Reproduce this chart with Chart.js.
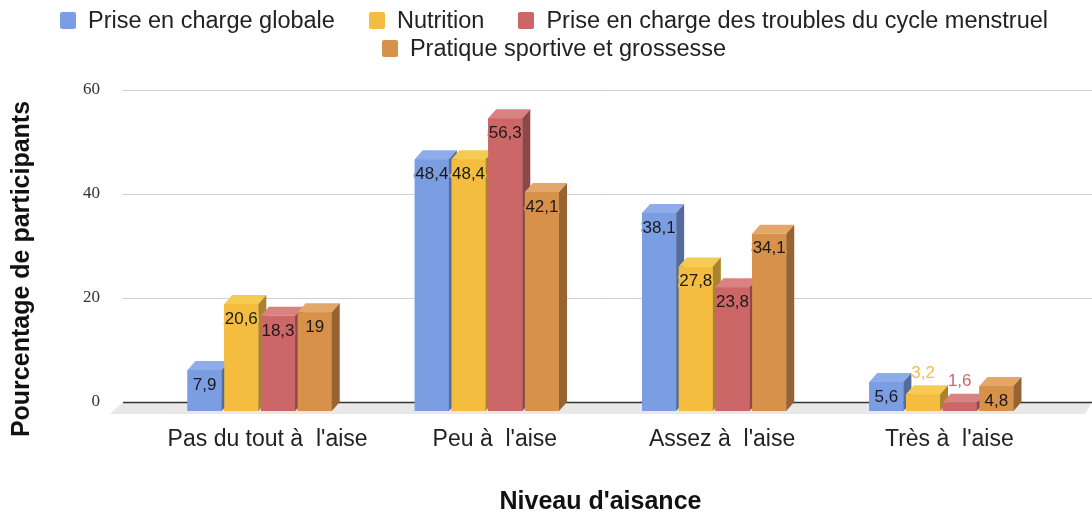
<!DOCTYPE html>
<html>
<head>
<meta charset="utf-8">
<script src="https://cdn.jsdelivr.net/npm/chart.js@4.4.1/dist/chart.umd.min.js"></script>
<style>
body { margin: 0; background: #fff; }
#wrap { position: relative; width: 1092px; height: 518px; }
#myChart { display: block; }
#legend {
    position: absolute; top: 6px; left: 0; width: 1092px; box-sizing: border-box; padding-left: 16px;
    display: flex; flex-wrap: wrap; justify-content: center; column-gap: 34px;
    font-family: "Liberation Sans", Arial, sans-serif; font-size: 23.5px; line-height: 28px; color: #222;
}
.item { display: flex; align-items: center; white-space: nowrap; }
.box { width: 16px; height: 17px; border-radius: 2px; margin-right: 12px; }
</style>
</head>
<body>
<div id="wrap">
    <canvas id="myChart" width="1092" height="518"></canvas>
    <div id="legend"></div>
</div>
<script>
const categories = ["Pas du tout à  l'aise", "Peu à  l'aise", "Assez à  l'aise", "Très à  l'aise"];
const seriesNames = ["Prise en charge globale", "Nutrition", "Prise en charge des troubles du cycle menstruel", "Pratique sportive et grossesse"];
const globale = [7.9, 48.4, 38.1, 5.6];
const nutrition = [20.6, 48.4, 27.8, 3.2];
const cycle = [18.3, 56.3, 23.8, 1.6];
const sport = [19, 42.1, 34.1, 4.8];
const yTicks = [0, 20, 40, 60];
const xTitle = "Niveau d'aisance";
const yTitle = "Pourcentage de participants";

// face colours: front, top, side
const fronts = ['rgb(123,157,226)', 'rgb(244,189,64)', 'rgb(205,103,103)', 'rgb(215,145,74)'];
const tops = ['rgb(141,172,233)', 'rgb(246,203,82)', 'rgb(218,130,130)', 'rgb(227,167,105)'];
const sides = ['rgb(84,107,156)', 'rgb(170,132,44)', 'rgb(142,71,71)', 'rgb(150,100,50)'];

const DX = 8, DY = 9;
const sans = '"Liberation Sans", Arial, sans-serif';

function poly(ctx, color, pts) {
    ctx.fillStyle = color;
    ctx.beginPath();
    ctx.moveTo(pts[0][0], pts[0][1]);
    for (let k = 1; k < pts.length; k++) ctx.lineTo(pts[k][0], pts[k][1]);
    ctx.closePath();
    ctx.fill();
}

const bars3d = {
    id: 'bars3d',
    beforeDatasetsDraw(chart) {
        const ctx = chart.ctx;
        const area = chart.chartArea;
        const y = chart.scales.y;
        const zero = y.getPixelForValue(0) - DY;
        const left = area.left - 23;

        ctx.save();
        // floor
        poly(ctx, '#e8e8e8', [[left, zero], [chart.width, zero], [chart.width - 7, zero + 12], [left - 13, zero + 12]]);

        // back wall grid lines
        yTicks.forEach(v => {
            const py = Math.round(y.getPixelForValue(v) - DY) + 0.5;
            ctx.strokeStyle = v === 0 ? '#333' : '#d0d0d0';
            ctx.lineWidth = v === 0 ? 1.5 : 1;
            ctx.beginPath();
            ctx.moveTo(left, py);
            ctx.lineTo(chart.width, py);
            ctx.stroke();
        });

        // y axis title
        ctx.translate(22, area.bottom - 142);
        ctx.rotate(-Math.PI / 2);
        ctx.font = 'bold 25px ' + sans;
        ctx.fillStyle = '#111';
        ctx.textAlign = 'center';
        ctx.textBaseline = 'middle';
        ctx.fillText(yTitle, 0, 0);
        ctx.restore();
    },
    afterDatasetsDraw(chart) {
        const ctx = chart.ctx;
        ctx.save();
        // faces, left to right so each bar hides the side of the one before
        chart.data.datasets.forEach((ds, i) => {
            chart.getDatasetMeta(i).data.forEach(bar => {
                const p = bar.getProps(['x', 'y', 'base', 'width'], true);
                const l = p.x - p.width / 2, r = p.x + p.width / 2;
                poly(ctx, fronts[i], [[l, p.y], [r, p.y], [r, p.base], [l, p.base]]);
                poly(ctx, tops[i], [[l, p.y], [r, p.y], [r + DX, p.y - DY], [l + DX, p.y - DY]]);
                poly(ctx, sides[i], [[r, p.y], [r + DX, p.y - DY], [r + DX, p.base - DY], [r, p.base]]);
            });
        });

        // value labels
        ctx.font = '17px ' + sans;
        ctx.textAlign = 'center';
        ctx.textBaseline = 'middle';
        ctx.lineJoin = 'round';
        chart.data.datasets.forEach((ds, i) => {
            chart.getDatasetMeta(i).data.forEach((bar, j) => {
                const p = bar.getProps(['x', 'y', 'base'], true);
                const txt = String(ds.data[j]).replace('.', ',');
                if (p.base - p.y >= 20) {
                    ctx.strokeStyle = fronts[i];
                    ctx.lineWidth = 4;
                    ctx.strokeText(txt, p.x, p.y + 15);
                    ctx.fillStyle = '#1a1a1a';
                    ctx.fillText(txt, p.x, p.y + 15);
                } else {
                    ctx.fillStyle = fronts[i];
                    ctx.fillText(txt, p.x, p.y - DY - 12);
                }
            });
        });
        ctx.restore();
    }
};

const data = {
    labels: categories,
    datasets: [globale, nutrition, cycle, sport].map((vals, i) => ({
        label: seriesNames[i],
        data: vals,
        backgroundColor: fronts[i],
        borderWidth: 0,
        categoryPercentage: 0.646,
        barPercentage: 0.93
    }))
};

const config = {
    type: 'bar',
    data,
    options: {
        responsive: false,
        animation: false,
        events: [],
        layout: { padding: { top: 99, right: 37, left: 0, bottom: 0 } },
        plugins: {
            legend: { display: false },
            tooltip: { enabled: false }
        },
        scales: {
            x: {
                grid: { display: false, drawTicks: false },
                border: { display: false },
                ticks: { color: '#222', font: { family: sans, size: 23 }, padding: 15, labelOffset: 8, maxRotation: 0 },
                title: { display: true, text: xTitle, color: '#111', font: { family: sans, size: 25, weight: 'bold' }, padding: { top: 0, bottom: 1 } },
                afterFit: s => { s.height = 107; }
            },
            y: {
                min: 0,
                max: 60,
                grid: { display: false, drawTicks: false },
                border: { display: false },
                ticks: { color: '#333', font: { family: '"Liberation Serif", "Times New Roman", serif', size: 17 }, padding: 46, labelOffset: -DY },
                afterBuildTicks: s => { s.ticks = yTicks.map(v => ({ value: v })); },
                afterFit: s => { s.width = 146; }
            }
        }
    },
    plugins: [bars3d]
};

new Chart(document.getElementById('myChart'), config);

// html legend
const legend = document.getElementById('legend');
seriesNames.forEach((name, i) => {
    const item = document.createElement('div');
    item.className = 'item';
    const box = document.createElement('span');
    box.className = 'box';
    box.style.background = fronts[i];
    item.appendChild(box);
    item.appendChild(document.createTextNode(name));
    legend.appendChild(item);
});
</script>
</body>
</html>
